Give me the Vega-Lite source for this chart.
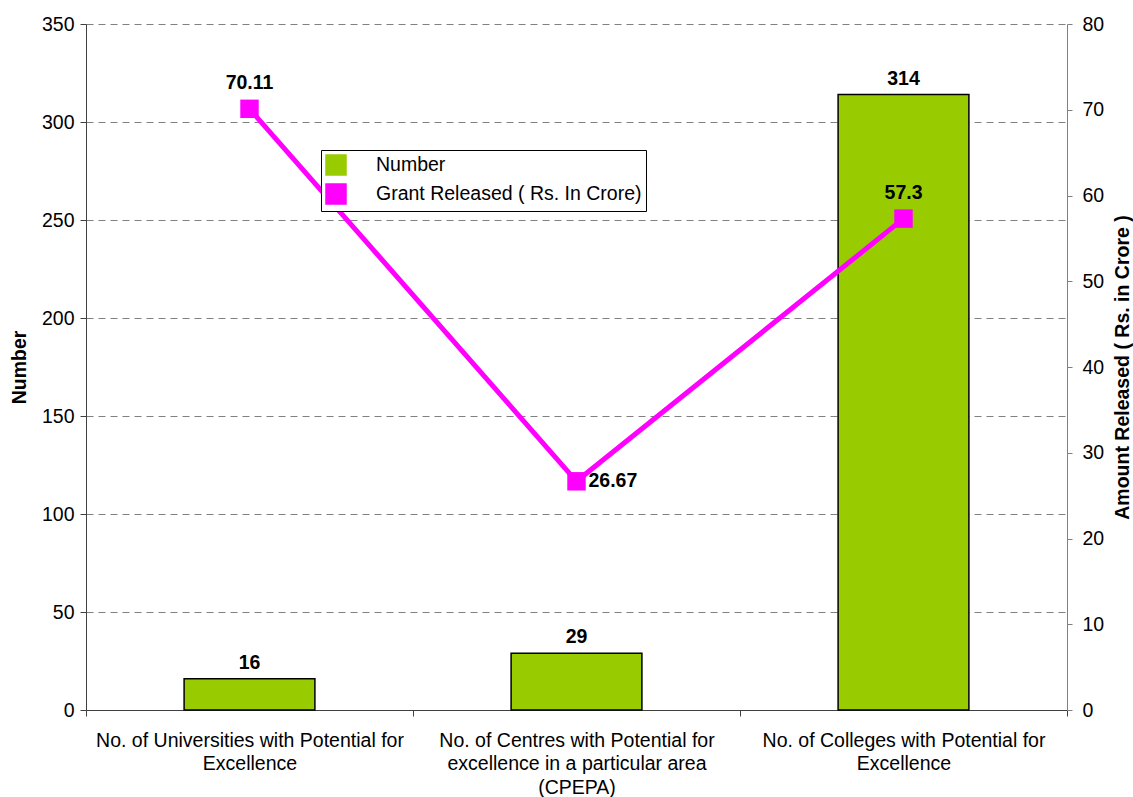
{
  "$schema": "https://vega.github.io/schema/vega-lite/v6.json",
  "width": 981,
  "height": 686,
  "autosize": {"type": "none"},
  "padding": {"left": 86, "top": 24, "right": 66, "bottom": 87},
  "background": "white",
  "config": {
    "view": {"stroke": null},
    "font": "Liberation Sans",
    "axis": {"labelColor": "black", "titleColor": "black", "labelFontSize": 19.5, "labelFont": "Liberation Sans", "titleFont": "Liberation Sans"},
    "legend": {
      "title": null,
      "orient": "none",
      "legendX": 235,
      "legendY": 126,
      "fillColor": "white",
      "strokeColor": "black",
      "padding": 4,
      "rowPadding": 3,
      "symbolSize": 400,
      "labelFontSize": 19.5,
      "labelColor": "black",
      "labelOffset": 29,
      "labelLimit": 400
    }
  },
  "data": {
    "values": [
      {"category": "No. of Universities with Potential for Excellence", "number": 16, "grant": 70.11},
      {"category": "No. of Centres with Potential for excellence in a particular area (CPEPA)", "number": 29, "grant": 26.67},
      {"category": "No. of Colleges with Potential for Excellence", "number": 314, "grant": 57.3}
    ]
  },
  "encoding": {
    "x": {
      "field": "category",
      "type": "nominal",
      "sort": null,
      "scale": {"paddingInner": 0, "paddingOuter": 0},
      "axis": {
        "title": null,
        "labelAngle": 0,
        "labelLimit": 400,
        "labelLineHeight": 23.5,
        "labelPadding": 15,
        "tickBand": "extent",
        "tickSize": 6,
        "tickColor": "#404040",
        "domainColor": "#404040",
        "grid": false,
        "labelExpr": "!isValid(datum.value) ? '' : datum.value == 'No. of Centres with Potential for excellence in a particular area (CPEPA)' ? ['No. of Centres with Potential for', 'excellence in a particular area', '(CPEPA)'] : datum.value == 'No. of Universities with Potential for Excellence' ? ['No. of Universities with Potential for', 'Excellence'] : ['No. of Colleges with Potential for', 'Excellence']"
      }
    }
  },
  "layer": [
    {
      "encoding": {
        "y": {
          "field": "number",
          "type": "quantitative",
          "scale": {"domain": [0, 350], "nice": false},
          "axis": {
            "title": "Number",
            "titleFontSize": 19.5,
            "titleFontWeight": "bold",
            "titlePadding": 12,
            "values": [0, 50, 100, 150, 200, 250, 300, 350],
            "grid": true,
            "gridDash": [7, 5],
            "gridColor": "#808080",
            "gridWidth": 1,
            "domainColor": "#404040",
            "tickColor": "#404040",
            "tickSize": 6,
            "labelPadding": 6
          }
        }
      },
      "layer": [
        {
          "mark": {"type": "bar", "stroke": "black", "strokeWidth": 1.5, "width": {"band": 0.4}},
          "encoding": {
            "color": {
              "datum": "Number",
              "type": "nominal",
              "scale": {"domain": ["Number", "Grant Released ( Rs. In Crore)"], "range": ["#99CC00", "#FF00FF"]},
              "legend": {
                "encode": {
                  "symbols": {
                    "shape": {"value": {"expr": "datum.value == 'Number' ? 'M-0.9,-0.55H3.4V0.55H-0.9Z' : 'M-1,-0.25H0.55V-0.65H1.85V-0.25H3.5V0.25H1.85V0.65H0.55V0.25H-1Z'"}},
                    "fill": {"value": {"expr": "datum.value == 'Number' ? '#99CC00' : '#FF00FF'"}},
                    "stroke": {"value": {"expr": "datum.value == 'Number' ? 'black' : '#FF00FF'"}},
                    "strokeWidth": {"value": 1},
                    "opacity": {"value": 1},
                    "fillOpacity": {"value": 1}
                  }
                }
              }
            }
          }
        },
        {
          "mark": {"type": "text", "baseline": "bottom", "dy": -6, "fontSize": 19.5, "fontWeight": "bold", "color": "black"},
          "encoding": {"text": {"field": "number", "type": "quantitative"}}
        }
      ]
    },
    {
      "encoding": {
        "y": {
          "field": "grant",
          "type": "quantitative",
          "scale": {"domain": [0, 80], "nice": false},
          "axis": {
            "orient": "right",
            "title": "Amount Released ( Rs. in Crore )",
            "titleFontSize": 19.5,
            "titleFontWeight": "bold",
            "titleAngle": 270,
            "titlePadding": 29,
            "values": [0, 10, 20, 30, 40, 50, 60, 70, 80],
            "grid": false,
            "domainColor": "#808080",
            "tickColor": "#808080",
            "tickSize": 5,
            "labelPadding": 10
          }
        }
      },
      "layer": [
        {
          "mark": {"type": "line", "strokeWidth": 5, "point": {"shape": "square", "size": 340, "filled": true, "opacity": 1}},
          "encoding": {
            "color": {"datum": "Grant Released ( Rs. In Crore)", "type": "nominal"}
          }
        },
        {
          "transform": [{"filter": "datum.category != 'No. of Centres with Potential for excellence in a particular area (CPEPA)'"}],
          "mark": {"type": "text", "baseline": "middle", "dy": -26, "fontSize": 19.5, "fontWeight": "bold", "color": "black"},
          "encoding": {"text": {"field": "grant", "type": "quantitative"}}
        },
        {
          "transform": [{"filter": "datum.category == 'No. of Centres with Potential for excellence in a particular area (CPEPA)'"}],
          "mark": {"type": "text", "baseline": "middle", "align": "left", "dx": 12, "fontSize": 19.5, "fontWeight": "bold", "color": "black"},
          "encoding": {"text": {"field": "grant", "type": "quantitative"}}
        }
      ]
    }
  ],
  "resolve": {"scale": {"y": "independent"}}
}
